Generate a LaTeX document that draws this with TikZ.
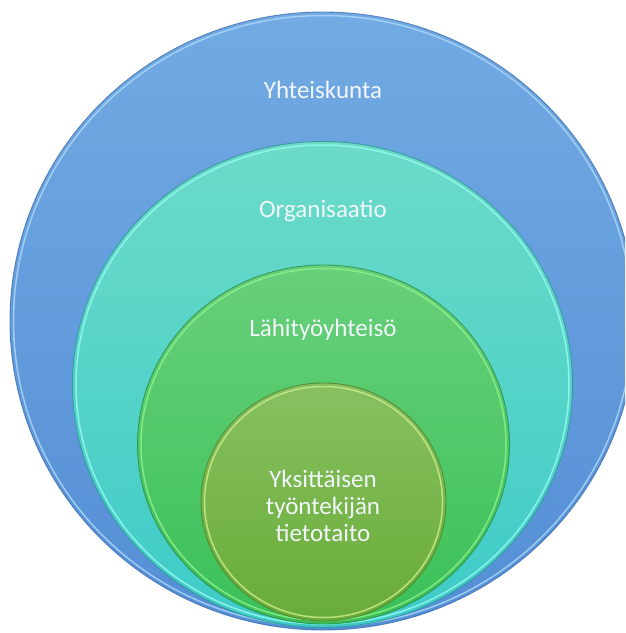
\documentclass[tikz,border=0pt]{standalone}
\usepackage{fontspec}
\setmainfont{Carlito}
% fills, edge lines and inner glints of the four layers
\definecolor{outerTop}{RGB}{114,170,227}
\definecolor{outerBot}{RGB}{84,142,213}
\definecolor{outerEdge}{RGB}{62,110,175}
\definecolor{outerGlint}{RGB}{170,215,248}
\definecolor{orgTop}{RGB}{108,219,200}
\definecolor{orgBot}{RGB}{62,203,200}
\definecolor{orgEdge}{RGB}{46,150,150}
\definecolor{orgGlint}{RGB}{150,250,240}
\definecolor{teamTop}{RGB}{104,208,122}
\definecolor{teamBot}{RGB}{58,192,88}
\definecolor{teamEdge}{RGB}{40,140,70}
\definecolor{teamGlint}{RGB}{140,240,140}
\definecolor{selfTop}{RGB}{136,192,96}
\definecolor{selfBot}{RGB}{104,172,56}
\definecolor{selfEdge}{RGB}{78,130,44}
\definecolor{selfGlint}{RGB}{200,236,140}
\definecolor{labelText}{RGB}{242,246,250}
% one bevelled layer: centre x, centre y, x radius, y radius, top, bottom, edge, glint
\newcommand\ringlayer[8]{%
  \shade[top color=#5,bottom color=#6] (#1,#2) ellipse [x radius=#3, y radius=#4];
  \draw[#7, line width=0.9pt, opacity=0.8] (#1,#2) ellipse [x radius=#3, y radius=#4];
  \draw[#8, line width=1.5pt, opacity=0.85] (#1,#2) ellipse [x radius=#3-3.5, y radius=#4-3.5];
}
\begin{document}
\begin{tikzpicture}[x=1pt,y=-1pt,
  lbl/.style={text=labelText, align=center, inner sep=0pt,
    font=\fontsize{25}{27}\selectfont}]
\useasboundingbox (0,0) rectangle (625,633);
\clip (0,0) rectangle (625,633);
\ringlayer{323}{321}{313}{309}{outerTop}{outerBot}{outerEdge}{outerGlint}
\ringlayer{322.5}{384.5}{250}{243}{orgTop}{orgBot}{orgEdge}{orgGlint}
\ringlayer{323.5}{444.5}{186}{179.5}{teamTop}{teamBot}{teamEdge}{teamGlint}
\ringlayer{323.5}{502}{122.5}{119}{selfTop}{selfBot}{selfEdge}{selfGlint}
\node[lbl] (society) at (323,90) {Yhteiskunta};
\node[lbl] (organisation) at (323,211) {Organisaatio};
\node[lbl] (workplace) at (323,330) {Lähityöyhteisö};
\node[lbl] (individual) at (323,506) {Yksittäisen\\työntekijän\\tietotaito};
\end{tikzpicture}
\end{document}
